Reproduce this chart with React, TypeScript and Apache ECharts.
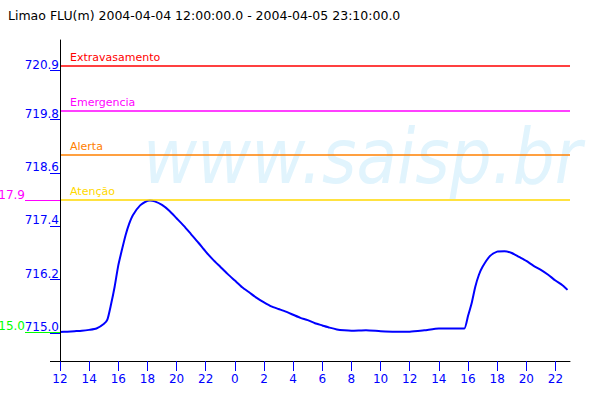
import React, { useEffect, useRef } from "react";
import * as echarts from "echarts";

const titleText = "Limao FLU(m) 2004-04-04 12:00:00.0 - 2004-04-05 23:10:00.0";

// hours since 2004-04-04 00:00
const times = [12, 12.5, 13, 13.5, 14, 14.5, 15, 15.25, 15.5, 15.75, 16, 16.25, 16.5, 16.75, 17, 17.5, 18, 18.17, 18.5, 19, 19.5, 20, 20.5, 21, 21.5, 22, 22.5, 23, 23.5, 24, 24.5, 25, 25.5, 26, 26.5, 27, 27.5, 28, 28.5, 29, 29.5, 30, 30.5, 31, 31.5, 32, 33, 34, 35, 36, 37, 38, 39, 39.5, 39.75, 40, 40.25, 40.5, 40.75, 41, 41.5, 42, 42.5, 43, 43.5, 44, 44.5, 45, 45.5, 46, 46.5, 46.83];
const levels = [715.02, 715.03, 715.04, 715.05, 715.07, 715.1, 715.2, 715.3, 715.64, 716.04, 716.52, 716.87, 717.2, 717.46, 717.65, 717.87, 717.97, 717.98, 717.96, 717.88, 717.75, 717.58, 717.41, 717.22, 717.03, 716.83, 716.65, 716.49, 716.33, 716.18, 716.03, 715.91, 715.79, 715.69, 715.6, 715.54, 715.48, 715.41, 715.34, 715.29, 715.22, 715.17, 715.12, 715.08, 715.06, 715.05, 715.06, 715.04, 715.03, 715.03, 715.06, 715.1, 715.1, 715.1, 715.1, 715.38, 715.67, 716.04, 716.31, 716.49, 716.73, 716.83, 716.84, 716.8, 716.71, 716.62, 716.51, 716.42, 716.31, 716.18, 716.07, 715.97];

const xTicks = [12, 14, 16, 18, 20, 22, 24, 26, 28, 30, 32, 34, 36, 38, 40, 42, 44, 46];
const yTicks = [715.0, 716.2, 717.4, 718.6, 719.8, 720.9];

const thresholdNames = ["Extravasamento", "Emergencia", "Alerta", "Atenção"];
const thresholdValues = [721.0, 720.0, 719.0, 718.0];
const thresholdColors = ["#ff0000", "#ff00ff", "#ff8000", "#ffd800"];

const xMin = 12;
const xMax = 47;
const yMin = 714.37;
const yMax = 721.59;

export default function App() {
  const ref = useRef<HTMLDivElement>(null);
  useEffect(() => {
    if (!ref.current) return;
    const chart = echarts.init(ref.current, undefined, { renderer: "svg" });
    const maxV = Math.max(...levels);
    const minV = Math.min(...levels);
    const trunc = (v: number) => (Math.floor(v * 10 + 1e-6) / 10).toFixed(1);
    const font = "DejaVu Sans";
    const baseY = {
      type: "value",
      min: yMin,
      max: yMax,
      position: "left",
      splitLine: { show: false },
      axisLine: { show: false },
    };
    chart.setOption({
      animation: false,
      textStyle: { fontFamily: font },
      title: {
        text: titleText,
        left: 3,
        top: 4,
        textStyle: { fontSize: 12.5, fontWeight: "normal", color: "#000", fontFamily: font },
      },
      grid: { left: 60, right: 30, top: 40, bottom: 39, containLabel: false, outerBoundsMode: "none" },
      graphic: [
        {
          type: "text",
          x: 143,
          y: 157,
          scaleX: 0.87,
          z: -10,
          silent: true,
          style: {
            text: "www.saisp.br",
            font: 'italic 76px "DejaVu Sans"',
            fill: "#e1f4fd",
            verticalAlign: "middle",
          },
        },
      ],
      xAxis: {
        type: "value",
        min: xMin,
        max: xMax,
        splitLine: { show: false },
        axisLine: { show: true, lineStyle: { color: "#000", width: 1 } },
        axisTick: { show: true, customValues: xTicks, length: 10, lineStyle: { color: "#0000ff", width: 1 } },
        axisLabel: {
          customValues: xTicks,
          color: "#0000ff",
          fontSize: 12,
          fontFamily: font,
          margin: 12,
          formatter: (v: number) => String(Math.round(v) % 24),
        },
      },
      yAxis: [
        {
          ...baseY,
          z: 5,
          axisLine: { show: true, lineStyle: { color: "#000", width: 1 } },
          axisTick: { show: true, customValues: yTicks, length: 10, lineStyle: { color: "#0000ff", width: 1 } },
          axisLabel: {
            customValues: yTicks,
            color: "#0000ff",
            fontSize: 12,
            fontFamily: font,
            margin: 1,
            verticalAlign: "bottom",
            formatter: (v: number) => v.toFixed(1),
          },
        },
        {
          ...baseY,
          z: 3,
          axisTick: { show: true, customValues: [maxV], length: 35, lineStyle: { color: "#ff00ff", width: 1 } },
          axisLabel: {
            customValues: [maxV],
            color: "#ff00ff",
            fontSize: 12,
            fontFamily: font,
            margin: 35,
            verticalAlign: "bottom",
            formatter: (v: number) => trunc(v),
          },
        },
        {
          ...baseY,
          z: 3,
          axisTick: { show: true, customValues: [minV], length: 35, lineStyle: { color: "#00ff00", width: 1 } },
          axisLabel: {
            customValues: [minV],
            color: "#00ff00",
            fontSize: 12,
            fontFamily: font,
            margin: 35,
            verticalAlign: "bottom",
            formatter: (v: number) => trunc(v),
          },
        },
        {
          ...baseY,
          z: 3,
          axisTick: { show: true, customValues: [yMin], length: 10, lineStyle: { color: "#000", width: 1 } },
          axisLabel: { show: false },
        },
      ],
      series: [
        {
          type: "line",
          xAxisIndex: 0,
          yAxisIndex: 0,
          data: times.map((t, i) => [t, levels[i]]),
          showSymbol: false,
          smooth: 0.2,
          lineStyle: { color: "#0000ff", width: 2 },
          itemStyle: { color: "#0000ff" },
          z: 4,
          markLine: {
            silent: true,
            symbol: ["none", "none"],
            animation: false,
            data: thresholdValues.map((v, i) => ({
              yAxis: v,
              name: thresholdNames[i],
              lineStyle: { color: thresholdColors[i], width: 1.5, type: "solid" },
              label: {
                show: true,
                position: "insideStartTop",
                formatter: "{b}",
                color: thresholdColors[i],
                fontSize: 11,
                fontFamily: font,
                distance: [10, 3],
              },
            })),
          },
        },
      ],
    });
    return () => chart.dispose();
  }, []);
  return <div ref={ref} style={{ position: "absolute", left: 0, top: 0, width: 600, height: 400 }} />;
}
